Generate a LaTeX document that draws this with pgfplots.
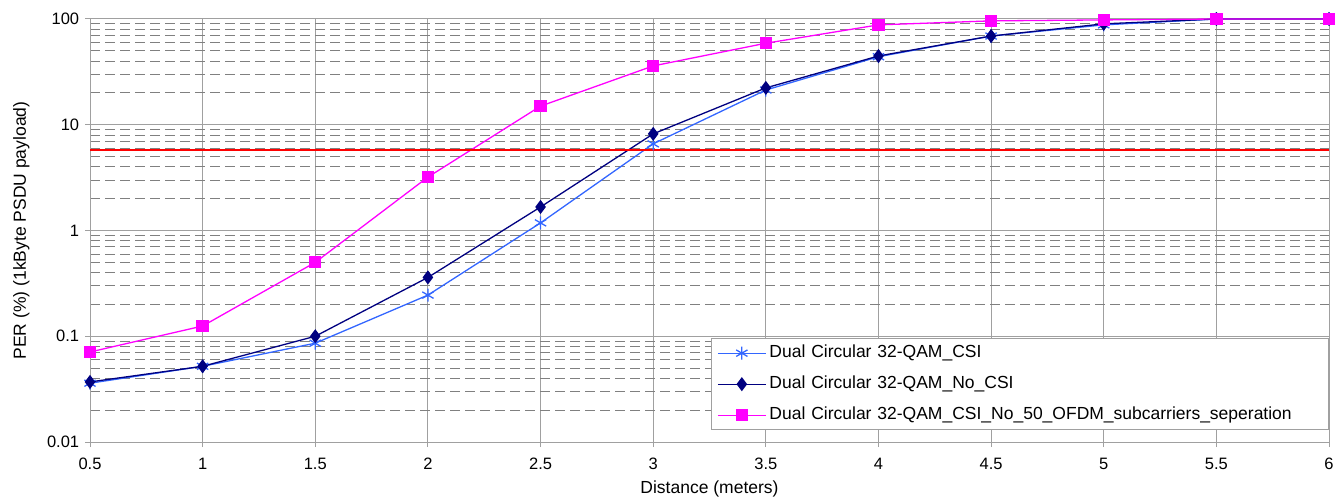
\documentclass[border=0pt]{standalone}
\usepackage{fontspec}
\setmainfont{Liberation Sans}
\usepackage{pgfplots}
\pgfplotsset{compat=1.18}
\usetikzlibrary{calc}

\definecolor{csiblue}{RGB}{51,102,255}
\definecolor{nocsi}{RGB}{0,0,128}
\definecolor{sepmag}{RGB}{255,0,255}
\definecolor{gridgray}{RGB}{160,160,160}

\begin{document}
\fontsize{17}{20}\selectfont
\begin{tikzpicture}
    \begin{axis}[
        scale only axis,
        width=1239pt,
        height=423pt,
        ymode=log,
        xmin=0.5, xmax=6,
        ymin=0.01, ymax=100,
        xtick={0.5,1,...,6},
        ytick={0.01,0.1,1,10,100},
        yticklabels={0.01,0.1,1,10,100},
        log ticks with fixed point,
        /pgf/number format/assume math mode=true,
        tick label style={font=\fontsize{16.5}{19}\selectfont},
        xticklabel style={yshift=-5pt},
        label style={font=\fontsize{17.5}{21}\selectfont},
        xlabel={Distance (meters)},
        ylabel={PER (\%) (1kByte PSDU payload)},
        xlabel style={yshift=0pt},
        ylabel style={yshift=6pt},
        grid=both,
        major grid style={gridgray, line width=1pt},
        minor grid style={gray, line width=0.9pt, dash pattern=on 10pt off 5pt},
        minor x tick num=0,
        axis line style={gridgray, line width=1pt},
        tick style={gridgray, line width=1pt},
        tick align=outside,
        major tick length=5pt,
        minor tick length=0pt,
        xtick pos=bottom,
        ytick pos=left,
        legend cell align=left,
        legend style={at={(1,0.028)}, anchor=south east,
            draw=gridgray, line width=1pt, fill=white,
            font=\fontsize{17.5}{21}\selectfont,
            row sep=14pt, inner xsep=6pt, inner ysep=6pt,
            nodes={inner ysep=0pt, inner xsep=3pt, text height=13pt, text depth=4pt,
                text width=550pt}},
        legend image code/.code={
            \draw[mark repeat=2, mark phase=2]
                plot coordinates {(0pt,0pt) (24pt,0pt) (48pt,0pt)};},
        ]

        \addplot[csiblue, line width=1.3pt, mark=asterisk, mark size=6.5pt,
            mark options={line width=1.3pt}] coordinates {
            (0.5,0.036) (1,0.052) (1.5,0.086) (2,0.245) (2.5,1.18)
            (3,6.6) (3.5,21.3) (4,44) (4.5,69) (5,88) (5.5,100) (6,100)
        };
        \addlegendentry{Dual Circular 32-QAM\_CSI}

        \addplot[nocsi, line width=1.3pt, mark=diamond*, mark size=6pt] coordinates {
            (0.5,0.037) (1,0.052) (1.5,0.1) (2,0.36) (2.5,1.67)
            (3,8.2) (3.5,22.3) (4,44.7) (4.5,69) (5,90) (5.5,100) (6,100)
        };
        \addlegendentry{Dual Circular 32-QAM\_No\_CSI}

        \addplot[sepmag, line width=1.3pt, mark=square*, mark size=5.5pt] coordinates {
            (0.5,0.071) (1,0.125) (1.5,0.5) (2,3.2) (2.5,15)
            (3,36) (3.5,59) (4,88) (4.5,96) (5,98) (5.5,100) (6,100)
        };
        \addlegendentry{Dual Circular 32-QAM\_CSI\_No\_50\_OFDM\_subcarriers\_seperation}

        % threshold line
        \addplot[red, line width=2pt, forget plot] coordinates {(0.5,5.8) (6,5.8)};
    \end{axis}
    \useasboundingbox ($(current axis.south west)+(-90pt,-60pt)$) rectangle ($(current axis.north east)+(14pt,19pt)$);
\end{tikzpicture}
\end{document}
